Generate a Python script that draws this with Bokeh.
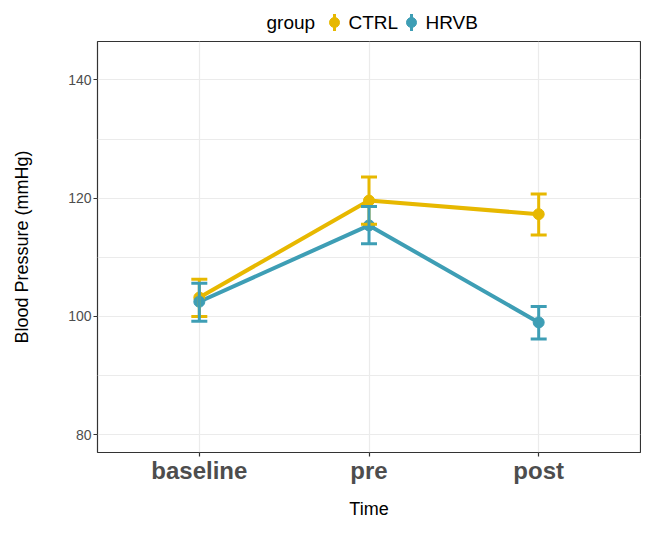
from bokeh.plotting import figure
from bokeh.layouts import column
from bokeh.models import ColumnDataSource, Whisker, TeeHead, FixedTicker, Range1d
from bokeh.core.properties import value
from bokeh.embed import file_html
from bokeh.resources import INLINE

# ---- data ----
times = ["baseline", "pre", "post"]
groups = ["CTRL", "HRVB"]
ctrl_mean = [103.2, 119.6, 117.3]
ctrl_lower = [100.0, 115.6, 113.8]
ctrl_upper = [106.3, 123.6, 120.7]
hrvb_mean = [102.5, 115.4, 99.0]
hrvb_lower = [99.2, 112.3, 96.2]
hrvb_upper = [105.6, 118.6, 101.7]
y_ticks = [80, 100, 120, 140]
y_minor = [90, 110, 130]
colors = {"CTRL": "#E7B800", "HRVB": "#3E9EB5"}

FONT = "Liberation Sans"
W = 641
H = 522
LEFT = 97
RIGHT = 1

xs = list(range(1, len(times) + 1))
series = {
    "CTRL": (ctrl_mean, ctrl_lower, ctrl_upper),
    "HRVB": (hrvb_mean, hrvb_lower, hrvb_upper),
}

# ---- legend strip (frame aligned with main frame; x data == page px) ----
LH = 40
leg = figure(width=W, height=LH, x_range=Range1d(LEFT, W - RIGHT), y_range=Range1d(0, LH),
             toolbar_location=None, output_backend="svg",
             min_border=0, outline_line_color=None)
leg.axis.visible = False
leg.grid.visible = False
ly = LH - 22
leg.text(x=[266], y=[ly], text=["group"], text_font=value(FONT), text_font_size="19px",
         text_baseline="middle", text_align="left", text_color="#000000")
key_x = {"CTRL": 334, "HRVB": 411}
for g in groups:
    kx = key_x[g]
    leg.segment(x0=[kx], y0=[ly - 8.5], x1=[kx], y1=[ly + 8.5], line_color=colors[g], line_width=3)
    leg.scatter(x=[kx], y=[ly], size=10, color=colors[g])
    leg.text(x=[kx + 14], y=[ly], text=[g], text_font=value(FONT), text_font_size="19px",
             text_baseline="middle", text_align="left", text_color="#000000")

# ---- main plot ----
p = figure(width=W, height=H - LH, toolbar_location=None, output_backend="svg",
           x_range=Range1d(0.4, 3.6), y_range=Range1d(77, 146.5),
           min_border_left=LEFT, min_border_right=RIGHT, min_border_top=1, min_border_bottom=70,
           outline_line_color="#333333", outline_line_width=1.2)

p.xaxis.ticker = FixedTicker(ticks=xs)
p.xaxis.major_label_overrides = {x: t for x, t in zip(xs, times)}
p.yaxis.ticker = FixedTicker(ticks=y_ticks, minor_ticks=y_minor)

p.xgrid.grid_line_color = "#EBEBEB"
p.xgrid.grid_line_width = 1.2
p.ygrid.grid_line_color = "#EBEBEB"
p.ygrid.grid_line_width = 1.2
p.ygrid.minor_grid_line_color = "#EBEBEB"
p.ygrid.minor_grid_line_width = 1.0

for ax in (p.xaxis, p.yaxis):
    ax.axis_line_color = None
    ax.major_tick_line_color = "#333333"
    ax.major_tick_line_width = 1.2
    ax.major_tick_out = 4
    ax.major_tick_in = 0
    ax.minor_tick_line_color = None
    ax.major_label_text_font = FONT
    ax.major_label_text_color = "#4D4D4D"
    ax.axis_label_text_font = FONT
    ax.axis_label_text_font_style = "normal"
    ax.axis_label_text_font_size = "18px"
    ax.axis_label_text_color = "#000000"

p.xaxis.major_label_text_font_size = "24px"
p.xaxis.major_label_text_font_style = "bold"
p.xaxis.major_label_standoff = 0
p.xaxis.axis_label = "Time"
p.xaxis.axis_label_standoff = 12

p.yaxis.major_label_text_font_size = "14px"
p.yaxis.major_label_standoff = 2
p.yaxis.axis_label = "Blood Pressure (mmHg)"
p.yaxis.axis_label_standoff = 33

sources = {}
for g in groups:
    m, lo, up = series[g]
    sources[g] = ColumnDataSource(dict(x=xs, y=m, lower=lo, upper=up))

for g in groups:
    w = Whisker(source=sources[g], base="x", lower="lower", upper="upper", dimension="height",
                line_color=colors[g], line_width=3, level="glyph",
                upper_head=TeeHead(size=16, line_color=colors[g], line_width=3),
                lower_head=TeeHead(size=16, line_color=colors[g], line_width=3))
    p.add_layout(w)

for g in groups:
    p.line(x="x", y="y", source=sources[g], line_color=colors[g], line_width=4)
for g in groups:
    p.scatter(x="x", y="y", source=sources[g], size=11, color=colors[g])

layout = column(leg, p, spacing=0)
open("out.html", "w").write(file_html(layout, INLINE))
